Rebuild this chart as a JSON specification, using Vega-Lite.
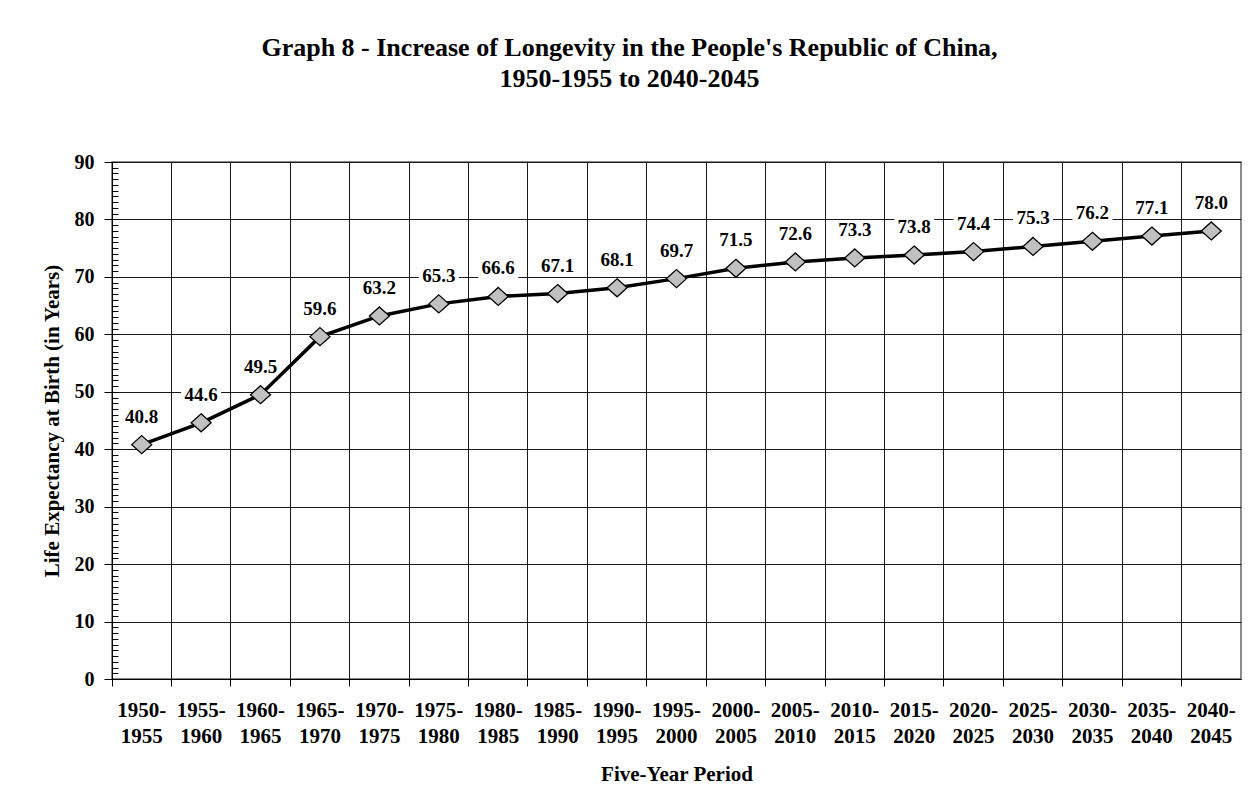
{
  "$schema": "https://vega.github.io/schema/vega-lite/v6.json",
  "width": 1129,
  "height": 517,
  "autosize": "none",
  "padding": {"left": 112, "top": 162, "right": 17, "bottom": 133},
  "background": "white",
  "title": {
    "text": ["Graph 8 - Increase of Longevity in the People's Republic of China,", "1950-1955 to 2040-2045"],
    "font": "Liberation Serif",
    "fontSize": 26,
    "fontWeight": "bold",
    "color": "black",
    "lineHeight": 31,
    "anchor": "middle",
    "frame": "group",
    "dx": -47,
    "offset": 60
  },
  "data": {
    "values": [
      {"period": "1950-1955", "life": 40.8},
      {"period": "1955-1960", "life": 44.6},
      {"period": "1960-1965", "life": 49.5},
      {"period": "1965-1970", "life": 59.6},
      {"period": "1970-1975", "life": 63.2},
      {"period": "1975-1980", "life": 65.3},
      {"period": "1980-1985", "life": 66.6},
      {"period": "1985-1990", "life": 67.1},
      {"period": "1990-1995", "life": 68.1},
      {"period": "1995-2000", "life": 69.7},
      {"period": "2000-2005", "life": 71.5},
      {"period": "2005-2010", "life": 72.6},
      {"period": "2010-2015", "life": 73.3},
      {"period": "2015-2020", "life": 73.8},
      {"period": "2020-2025", "life": 74.4},
      {"period": "2025-2030", "life": 75.3},
      {"period": "2030-2035", "life": 76.2},
      {"period": "2035-2040", "life": 77.1},
      {"period": "2040-2045", "life": 78.0}
    ]
  },
  "encoding": {
    "x": {
      "field": "period",
      "type": "nominal",
      "sort": null,
      "scale": {"type": "band", "paddingInner": 0, "paddingOuter": 0},
      "axis": {
        "title": "Five-Year Period",
        "titleFont": "Liberation Serif",
        "titleFontSize": 21,
        "titleFontWeight": "bold",
        "titleColor": "black",
        "titlePadding": 17,
        "labelAngle": 0,
        "labelExpr": "[slice(datum.value, 0, 5), slice(datum.value, 5)]",
        "labelFont": "Liberation Serif",
        "labelFontSize": 21,
        "labelFontWeight": "bold",
        "labelColor": "black",
        "labelLineHeight": 26.5,
        "labelBaseline": "top",
        "labelPadding": 13,
        "labelOverlap": false,
        "labelBound": false,
        "bandPosition": 0,
        "tickSize": 7,
        "tickColor": "black",
        "domainColor": "black",
        "grid": true,
        "gridColor": "#1a1a1a",
        "gridWidth": 1
      }
    }
  },
  "layer": [
    {
      "mark": {
        "type": "point",
        "shape": "M-1,-0.5L1,-0.5L1,0.5L-1,0.5Z",
        "size": 1600,
        "filled": true,
        "fill": "white",
        "opacity": 1,
        "strokeWidth": 0,
        "yOffset": -28
      },
      "encoding": {
        "y": {"field": "life", "type": "quantitative", "scale": {"domain": [0, 90], "nice": false}, "axis": null}
      }
    },
    {
      "mark": {"type": "line", "color": "black", "strokeWidth": 3.5},
      "encoding": {
        "y": {
          "field": "life",
          "type": "quantitative",
          "scale": {"domain": [0, 90], "nice": false},
          "axis": {
            "title": "Life Expectancy at Birth (in Years)",
            "titleFont": "Liberation Serif",
            "titleFontSize": 21,
            "titleFontWeight": "bold",
            "titleColor": "black",
            "titlePadding": 12,
            "values": [0, 10, 20, 30, 40, 50, 60, 70, 80, 90],
            "labelFont": "Liberation Serif",
            "labelFontSize": 20,
            "labelFontWeight": "bold",
            "labelColor": "black",
            "labelPadding": 10,
            "tickSize": 8,
            "tickColor": "black",
            "domainColor": "black",
            "grid": true,
            "gridColor": "#1a1a1a",
            "gridWidth": 1
          }
        }
      }
    },
    {
      "mark": {
        "type": "point",
        "shape": "M0,-0.9L1,0L0,0.9L-1,0Z",
        "size": 400,
        "filled": true,
        "fill": "#c0c0c0",
        "stroke": "black",
        "strokeWidth": 1.3,
        "opacity": 1
      },
      "encoding": {
        "y": {"field": "life", "type": "quantitative", "scale": {"domain": [0, 90], "nice": false}, "axis": null}
      }
    },
    {
      "mark": {
        "type": "text",
        "font": "Liberation Serif",
        "fontSize": 19,
        "fontWeight": "bold",
        "color": "black",
        "baseline": "middle",
        "dy": -28
      },
      "encoding": {
        "y": {
          "field": "life",
          "type": "quantitative",
          "scale": {"domain": [0, 90], "nice": false},
          "axis": {
            "orient": "left",
            "offset": -6,
            "title": null,
            "values": [0,1,2,3,4,5,6,7,8,9,10,11,12,13,14,15,16,17,18,19,20,21,22,23,24,25,26,27,28,29,30,31,32,33,34,35,36,37,38,39,40,41,42,43,44,45,46,47,48,49,50,51,52,53,54,55,56,57,58,59,60,61,62,63,64,65,66,67,68,69,70,71,72,73,74,75,76,77,78,79,80,81,82,83,84,85,86,87,88,89,90],
            "labels": false,
            "domain": false,
            "grid": false,
            "ticks": true,
            "tickSize": 6,
            "tickColor": "black"
          }
        },
        "text": {"field": "life", "type": "quantitative", "format": ".1f"}
      }
    }
  ],
  "resolve": {"axis": {"y": "independent"}},
  "config": {
    "view": {"stroke": "#666666", "strokeWidth": 1.5}
  }
}
